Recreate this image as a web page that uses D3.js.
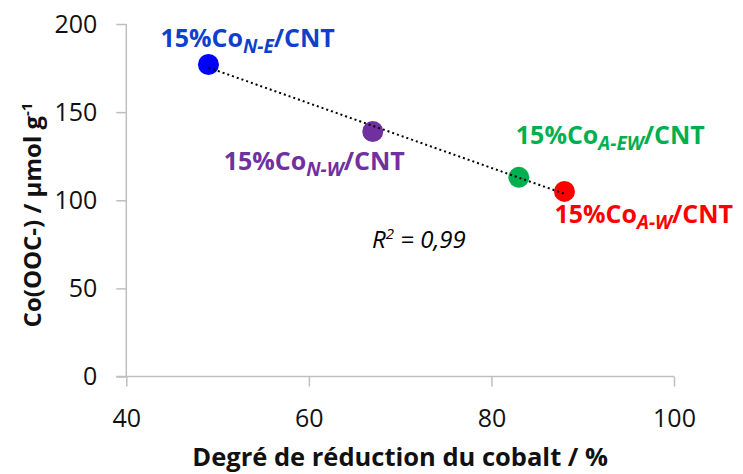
<!DOCTYPE html>
<html>
<head>
<meta charset="utf-8">
<script src="https://cdn.jsdelivr.net/npm/d3@7"></script>
<style>
  html, body { margin: 0; padding: 0; background: #fff; }
  svg { display: block; }
  text { font-family: "Open Sans", "DejaVu Sans", sans-serif; }
</style>
</head>
<body>
<svg id="chart" width="743" height="474"></svg>
<script>
// ---- data ----
const samples = ["N-E", "N-W", "A-EW", "A-W"];
const reduction = [49, 67, 83, 88];          // Degré de réduction du cobalt / %
const cooc = [177, 139, 113, 105];           // Co(OOC-) / µmol g-1
const xTicks = [40, 60, 80, 100];
const yTicks = [0, 50, 100, 150, 200];
const r2Label = "0,99";

// ---- styles (kept separate from data) ----
const pointColors = ["#0000ff", "#7030a0", "#00b050", "#ff0000"];
const labelColors = ["#0f3fcc", "#7030a0", "#00b050", "#ff0000"];
const labelOffsets = [[-48, -18], [-149, 38], [-3, -33], [-10, 32]];

const svg = d3.select("#chart");
const pLeft = 126.3, pRight = 674, pTop = 24, pBottom = 376.5;

const x = d3.scaleLinear().domain([40, 100]).range([pLeft, pRight]);
const y = d3.scaleLinear().domain([0, 200]).range([pBottom, pTop]);

const axisColor = "#bfbfbf";

const yAxis = svg.append("g").attr("transform", `translate(${pLeft},0)`)
  .call(d3.axisLeft(y).tickValues(yTicks).tickSize(10).tickPadding(19).tickFormat(d3.format("d")));
const xAxis = svg.append("g").attr("transform", `translate(0,${pBottom})`)
  .call(d3.axisBottom(x).tickValues(xTicks).tickSize(10).tickPadding(23).tickFormat(d3.format("d")));

[xAxis, yAxis].forEach(g => {
  g.select(".domain").attr("stroke", axisColor).attr("stroke-width", 1.5);
  g.selectAll(".tick line").attr("stroke", axisColor).attr("stroke-width", 1.5);
  g.selectAll(".tick text").attr("fill", "#111").style("font-size", "25px")
    .style("font-family", "'Open Sans', sans-serif");
});
yAxis.select(".domain").attr("d", `M0,${pTop}V${pBottom}`);
xAxis.select(".domain").attr("d", `M${pLeft - 10},0H${pRight}`);

// trendline (least squares from data)
const mx = d3.mean(reduction), my = d3.mean(cooc);
const slope = d3.sum(reduction.map((v, i) => (v - mx) * (cooc[i] - my))) /
              d3.sum(reduction.map(v => (v - mx) ** 2));
const intercept = my - slope * mx;
const x0 = d3.min(reduction), x1 = d3.max(reduction);

svg.append("g").selectAll("circle").data(reduction).join("circle")
  .attr("cx", d => x(d))
  .attr("cy", (d, i) => y(cooc[i]))
  .attr("r", 10.5)
  .attr("fill", (d, i) => pointColors[i]);

svg.append("line")
  .attr("x1", x(x0)).attr("y1", y(slope * x0 + intercept))
  .attr("x2", x(x1)).attr("y2", y(slope * x1 + intercept))
  .attr("stroke", "#000").attr("stroke-width", 2)
  .attr("stroke-dasharray", "2,3");

reduction.forEach((v, i) => {
  const t = svg.append("text")
    .attr("x", x(v) + labelOffsets[i][0])
    .attr("y", y(cooc[i]) + labelOffsets[i][1])
    .attr("fill", labelColors[i])
    .style("font-size", "25px").style("font-weight", "bold");
  t.append("tspan").text("15%Co");
  t.append("tspan").attr("dy", 6).style("font-size", "19px").style("font-style", "italic").text(samples[i]);
  t.append("tspan").attr("dy", -6).text("/CNT");
});

const r = svg.append("text").attr("x", 372).attr("y", 248)
  .attr("fill", "#000").style("font-size", "24px").style("font-style", "italic");
r.append("tspan").text("R");
r.append("tspan").attr("dy", -9).style("font-size", "15px").text("2");
r.append("tspan").attr("dy", 9).text(" = " + r2Label);

svg.append("text").attr("x", (pLeft + pRight) / 2).attr("y", 466)
  .attr("text-anchor", "middle").attr("fill", "#111")
  .style("font-size", "25.5px").style("font-weight", "bold")
  .text("Degré de réduction du cobalt / %");

const yt = svg.append("text")
  .attr("transform", `translate(41,215) rotate(-90)`)
  .attr("text-anchor", "middle").attr("fill", "#111")
  .style("font-size", "24px").style("font-weight", "bold");
yt.append("tspan").text("Co(OOC-) / µmol g");
yt.append("tspan").attr("dy", -9).style("font-size", "15px").text("-1");
</script>
</body>
</html>
